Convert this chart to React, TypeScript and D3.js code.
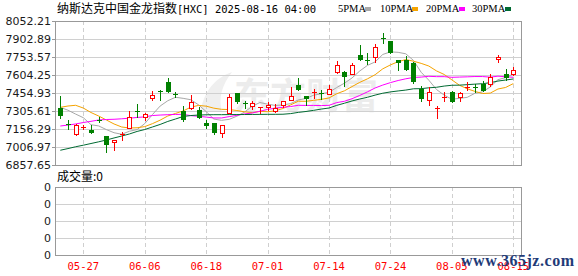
import React from 'react';
import * as d3 from 'd3';

const dates = ['05-21','05-22','05-23','05-27','05-28','05-29','05-30','06-02','06-03','06-04','06-05','06-06','06-09','06-10','06-11','06-12','06-13','06-16','06-17','06-18','06-20','06-23','06-24','06-25','06-26','06-27','06-30','07-01','07-02','07-03','07-07','07-08','07-09','07-10','07-11','07-14','07-15','07-16','07-17','07-18','07-21','07-22','07-23','07-24','07-25','07-28','07-29','07-30','07-31','08-01','08-04','08-05','08-06','08-07','08-08','08-11','08-12','08-13','08-14','08-15'];

const opens = [7330.5,7197.8,7117.6,7170.2,7148.0,7233.7,7095.5,7045.7,7103.8,7164.6,
  7308.4,7253.1,7413.5,7474.3,7546.2,7443.9,7302.9,7330.5,7311.2,7203.3,
  7203.3,7123.1,7289.0,7452.2,7374.7,7344.3,7330.5,7336.0,7308.4,7352.6,
  7399.6,7518.5,7427.3,7460.5,7454.9,7446.6,7626.4,7629.1,7612.6,7767.4,
  7728.7,7750.8,7908.4,7883.5,7725.9,7731.4,7703.8,7488.1,7399.6,7322.2,
  7419.0,7463.2,7419.0,7499.2,7504.7,7532.4,7532.4,7737.0,7612.6,7612.6];
const highs = [7427.3,7233.7,7200.5,7192.3,7192.3,7253.1,7101.0,7067.8,7128.7,7302.9,
  7363.7,7289.0,7468.8,7477.0,7579.4,7463.2,7344.3,7435.6,7341.6,7233.7,
  7206.1,7192.3,7446.6,7454.9,7385.8,7385.8,7338.8,7380.3,7363.7,7385.8,
  7504.7,7579.4,7430.0,7488.1,7482.6,7524.1,7717.6,7634.7,7706.6,7850.4,
  7786.8,7861.4,7952.7,7889.1,7728.7,7759.1,7709.3,7510.2,7501.9,7344.3,
  7463.2,7474.3,7463.2,7546.2,7529.6,7551.7,7612.6,7772.9,7654.0,7670.6];
const lows = [7247.5,7159.1,7109.3,7156.3,7125.9,7211.6,6962.7,6984.9,7067.8,7164.6,
  7255.8,7233.7,7399.6,7399.6,7463.2,7419.0,7225.4,7325.0,7247.5,7164.6,
  7117.6,7092.7,7289.0,7369.2,7330.5,7325.0,7289.0,7316.7,7294.6,7336.0,
  7399.6,7482.6,7358.1,7413.5,7407.9,7446.6,7620.9,7515.8,7612.6,7725.9,
  7695.5,7712.1,7869.7,7786.8,7648.5,7643.0,7537.9,7391.3,7358.1,7247.5,
  7391.3,7380.3,7391.3,7482.6,7463.2,7468.8,7510.2,7709.3,7565.5,7601.5];
const closes = [7275.2,7186.7,7192.3,7175.7,7128.7,7225.4,7034.6,7062.3,7112.1,7253.1,
  7294.6,7283.5,7435.6,7466.0,7474.3,7438.3,7239.2,7377.5,7255.8,7192.3,
  7128.7,7186.7,7419.0,7385.8,7363.7,7372.0,7338.8,7352.6,7330.5,7385.8,
  7427.3,7490.9,7413.5,7466.0,7446.6,7485.3,7690.0,7593.2,7684.4,7734.2,
  7717.6,7833.8,7902.9,7792.3,7714.8,7656.8,7557.2,7413.5,7463.2,7327.7,
  7424.5,7385.8,7452.2,7504.7,7496.4,7482.6,7590.4,7753.6,7590.4,7648.5];

const ma5Head = [7336, 7312, 7280, 7250];
const ma10Head = [7336, 7347, 7353, 7330, 7293, 7264, 7231, 7198, 7173];
const ma20Head = [7181, 7189, 7198, 7210, 7220, 7231, 7235, 7237, 7241, 7246, 7252, 7257, 7268, 7272, 7275, 7277, 7278, 7267, 7262];
const ma30Head = [6980, 6994, 7009, 7022, 7036, 7050, 7065, 7082, 7098, 7115, 7136, 7152, 7173, 7194, 7219, 7239, 7260, 7268, 7272, 7274, 7275, 7275, 7276, 7276, 7276.5, 7277, 7277.5, 7278, 7278];

const yTicks = [8052.21, 7902.89, 7753.57, 7604.25, 7454.93, 7305.61, 7156.29, 7006.97, 6857.65];
const xTickLabels = ['05-27', '06-06', '06-18', '07-01', '07-14', '07-24', '08-05', '08-15'];
const volTicks = [0, 0, 0, 0, 0];
const legend = [
  { name: '5PMA', color: '#a8a8a8' },
  { name: '10PMA', color: '#f5a300' },
  { name: '20PMA', color: '#ff00ff' },
  { name: '30PMA', color: '#006a32' },
];

const UP = '#ff0000';
const DOWN = '#008000';

function ma(n: number, head: number[]) {
  return closes.map((_, i) => (i >= n - 1 ? (d3.mean(closes.slice(i - n + 1, i + 1)) as number) : head[i]));
}

export default function App() {
  const L = 55, R = 522, T = 21, B = 165;
  const VT = 187, VB = 255;
  const x = d3.scaleLinear().domain([0, dates.length - 1]).range([60.3, 513.3]);
  const y = d3.scaleLinear().domain([yTicks[yTicks.length - 1], yTicks[0]]).range([B, T]);
  const vy = d3.scaleLinear().domain([0, volTicks.length - 1]).range([VT, VB]);
  const px = (v: number) => Math.round(v) + 0.5;

  const maSeries = [
    { vals: ma5Head.length ? ma(5, ma5Head) : [], color: legend[0].color },
    { vals: ma(10, ma10Head), color: legend[1].color },
    { vals: ma(20, ma20Head), color: legend[2].color },
    { vals: ma(30, ma30Head), color: legend[3].color },
  ];
  const line = d3.line<number>().x((_, i) => x(i)).y((d) => y(d));

  const tickIdx = xTickLabels.map((l) => dates.indexOf(l));
  const monoFont = '"DejaVu Sans Mono", "Liberation Mono", monospace';

  const legendX = [338, 380, 426, 472];
  const legendSqX = [365, 412, 459, 505];

  return (
    <svg width={578} height={276} style={{ position: 'absolute', left: 0, top: 0, background: '#fff' }}>
      <rect x={0} y={0} width={578} height={276} fill="#fff" />
      {/* title */}
      <text x={57} y={13} fontSize={12} fill="#000">
        <tspan fontFamily='"Noto Sans CJK SC", sans-serif'>纳斯达克中国金龙指数</tspan>
        <tspan fontFamily={monoFont} fontSize={10.5}>[HXC] 2025-08-16 04:00</tspan>
      </text>
      {legend.map((lg, i) => (
        <g key={lg.name}>
          <text x={legendX[i]} y={12} fontSize={10.5} fontFamily='"Liberation Serif", serif' fill="#000">{lg.name}</text>
          <rect x={legendSqX[i]} y={7} width={6} height={4} fill={lg.color} />
        </g>
      ))}

      {/* watermark logo */}
      <text x={234} y={109} fontSize={36} fontWeight="bold" fontFamily='"Noto Sans CJK SC", sans-serif' fill="#ececec">东方财富</text>
      <path d="M200,112 C205,90 215,78 232,72 C222,85 218,98 222,112 Z" fill="#efefef" />

      {/* main grid */}
      {yTicks.map((t, i) => (
        <g key={'yt' + i}>
          <line x1={L} x2={R} y1={px(y(t))} y2={px(y(t))} stroke="#d0d0d0" />
          <line x1={L - 3} x2={L} y1={px(y(t))} y2={px(y(t))} stroke="#999" />
          <text x={51} y={y(t) + 4} textAnchor="end" fontSize={11} fontFamily='"DejaVu Sans", Verdana, sans-serif' fill="#1a1a1a">{t.toFixed(2)}</text>
        </g>
      ))}
      {tickIdx.map((ti, i) => (
        <g key={'xg' + i}>
          <line x1={px(x(ti))} x2={px(x(ti))} y1={T} y2={B} stroke="#cfcfcf" strokeDasharray="4,3" />
          <line x1={px(x(ti))} x2={px(x(ti))} y1={VT} y2={VB} stroke="#cfcfcf" strokeDasharray="4,3" />
        </g>
      ))}
      <rect x={L + 0.5} y={T + 0.5} width={R - L - 1} height={B - T} fill="none" stroke="#999" />

      {/* MA lines */}
      {maSeries.map((s, i) => (
        <path key={'ma' + i} d={line(s.vals) || ''} fill="none" stroke={s.color} strokeWidth={1} />
      ))}

      {/* candles */}
      {dates.map((d, i) => {
        const o = opens[i], c = closes[i], h = highs[i], l = lows[i];
        const up = c >= o;
        const col = up ? UP : DOWN;
        const cx = Math.round(x(i));
        const yTop = Math.round(y(Math.max(o, c)));
        const yBot = Math.round(y(Math.min(o, c)));
        const bh = yBot - yTop;
        return (
          <g key={'c' + i} shapeRendering="crispEdges">
            <line x1={cx + 0.5} x2={cx + 0.5} y1={Math.round(y(h))} y2={Math.round(y(l)) + 1} stroke={col} />
            {bh < 2 ? (
              <line x1={cx - 2} x2={cx + 3} y1={yTop + 0.5} y2={yTop + 0.5} stroke={col} />
            ) : up ? (
              <rect x={cx - 2 + 0.5} y={yTop + 0.5} width={4} height={bh} fill="#fff" stroke={col} />
            ) : (
              <rect x={cx - 2} y={yTop} width={5} height={bh + 1} fill={col} />
            )}
          </g>
        );
      })}

      {/* volume panel */}
      <text x={57} y={181} fontSize={12} fontFamily='"Noto Sans CJK SC", sans-serif' fill="#000">成交量:0</text>
      {volTicks.map((v, i) => (
        <g key={'vt' + i}>
          {i > 0 && i < volTicks.length - 1 && (
            <line x1={L} x2={R} y1={px(vy(i))} y2={px(vy(i))} stroke="#d0d0d0" />
          )}
          <text x={51} y={vy(i) + 4} textAnchor="end" fontSize={11} fontFamily='"DejaVu Sans", Verdana, sans-serif' fill="#1a1a1a">{v}</text>
        </g>
      ))}
      <rect x={L + 0.5} y={VT + 0.5} width={R - L - 1} height={VB - VT} fill="none" stroke="#999" />

      {/* x labels */}
      {tickIdx.map((ti, i) => (
        <text key={'xl' + i} x={x(ti)} y={270} textAnchor="middle" fontSize={10.5} fontFamily={monoFont} fill="#ff0000">{xTickLabels[i]}</text>
      ))}

      {/* site watermark */}
      <text x={461} y={266} fontSize={16} fontWeight="bold" fontFamily='"Liberation Serif", serif' fill="#1f3b78" textLength={113}>www.365jz.com</text>
    </svg>
  );
}
